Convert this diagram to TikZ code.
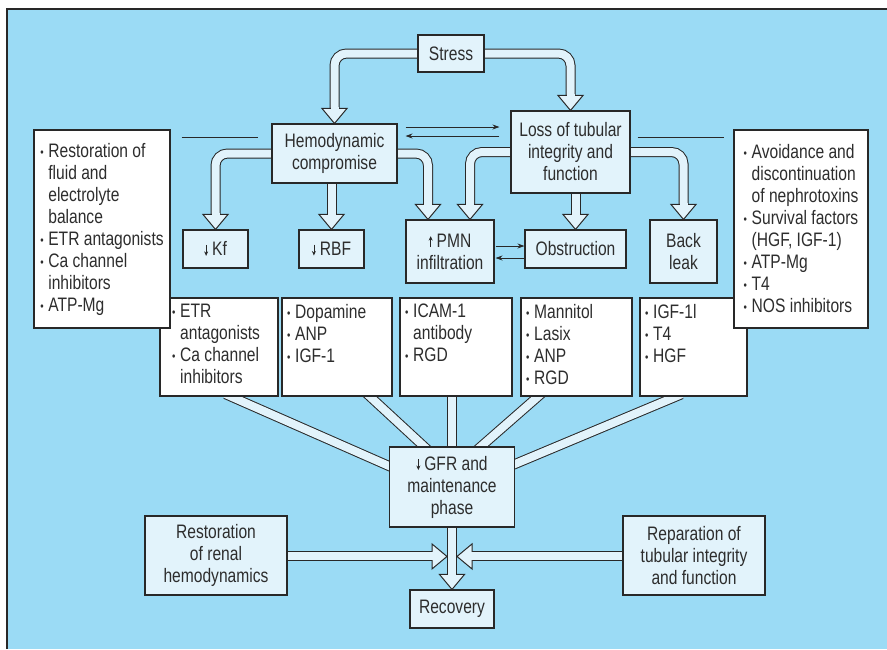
\documentclass[tikz,border=0pt]{standalone}
\usepackage{fontspec}
\setmainfont{Liberation Sans}[FakeStretch=0.8]
\usetikzlibrary{arrows.meta,calc}
\definecolor{bgblue}{RGB}{155,219,245}
\definecolor{lite}{RGB}{226,243,251}
\definecolor{ink}{RGB}{40,40,40}
\definecolor{txt}{RGB}{45,45,45}
\pgfdeclarelayer{bglayer}
\pgfdeclarelayer{pipelayer}
\pgfsetlayers{bglayer,pipelayer,main}
\newcommand\bul{\makebox[8pt][l]{\fontsize{12}{12}\selectfont\raisebox{1pt}{•}}}
\newcommand\contind{\hspace*{8pt}}
\newcommand\dnar{\tikz[baseline=0pt,x=1pt,y=1pt]\draw[ink,line width=0.8pt,-{Stealth[length=4.5pt,width=4pt]}](0,11)--(0,0);\hspace{4pt}}
\newcommand\upar{\tikz[baseline=0pt,x=1pt,y=1pt]\draw[ink,line width=0.8pt,-{Stealth[length=4.5pt,width=4pt]}](0,0)--(0,11);\hspace{4pt}}
\newcommand\headD[1]{\begin{scope}[shift={#1}]
 \filldraw[fill=lite,draw=ink,line width=1pt] (0,0) -- (-12.5,-15) -- (12.5,-15) -- cycle;
 \fill[lite] (-4,-16.2) rectangle (4,-13.8);\end{scope}}
\newcommand\headR[1]{\begin{scope}[shift={#1}]
 \filldraw[fill=lite,draw=ink,line width=1pt] (0,0) -- (-15,-12.5) -- (-15,12.5) -- cycle;
 \fill[lite] (-16.2,-4) rectangle (-13.8,4);\end{scope}}
\newcommand\headL[1]{\begin{scope}[shift={#1}]
 \filldraw[fill=lite,draw=ink,line width=1pt] (0,0) -- (15,-12.5) -- (15,12.5) -- cycle;
 \fill[lite] (13.8,-4) rectangle (16.2,4);\end{scope}}
\tikzset{
 box/.style={draw=ink, fill=lite, line width=1.1pt, inner sep=0pt, align=center, text=txt, font=\fontsize{19.5}{22}\selectfont},
 wbox/.style={box, fill=white},
 pipe/.style={draw=ink, line width=1pt, double=lite, double distance=8pt, rounded corners=12pt},
 thinline/.style={draw=ink, line width=0.9pt},
 thinarrow/.style={thinline, -{Stealth[length=7pt,width=5pt]}},
 txtnode/.style={inner sep=0pt, align=left, anchor=north west, text=txt, font=\fontsize{19.5}{22}\selectfont},
}
\begin{document}
\begin{tikzpicture}[x=1pt,y=-1pt]
\useasboundingbox (0,0) rectangle (887,649);
\begin{pgfonlayer}{bglayer}
\fill[bgblue] (7,9) rectangle (887,649);
\draw[ink,line width=1.5pt] (7,649) -- (7,9) -- (887,9);
\end{pgfonlayer}

% top part
\node[box,minimum width=66pt,minimum height=37pt] (stress) at (451,53.5) {Stress};
\node[box,minimum width=125pt,minimum height=59pt] (hemo) at (334.5,153.5) {Hemodynamic\\compromise};
\node[box,minimum width=119pt,minimum height=82pt] (loss) at (570.5,152) {Loss of tubular\\integrity and\\function};
\node[box,minimum width=65pt,minimum height=38pt] (kf) at (215.5,249) {\dnar Kf};
\node[box,minimum width=65pt,minimum height=38pt] (rbf) at (331.5,249) {\dnar RBF};
\node[box,minimum width=88pt,minimum height=63pt] (pmn) at (450,251.5) {\upar PMN\\infiltration};
\node[box,minimum width=101pt,minimum height=38pt] (obs) at (575.5,249) {Obstruction};
\node[box,minimum width=67pt,minimum height=63pt] (back) at (683.5,251.5) {Back\\leak};
\coordinate (pmnL) at ($(pmn.north)+(-22,0)$);
\coordinate (pmnR) at ($(pmn.north)+(20,0)$);

% row of treatment boxes
\node[wbox,minimum width=118pt,minimum height=98pt] (b1) at (219,347) {};
\node[wbox,minimum width=110pt,minimum height=98pt] (b2) at (337,347) {};
\node[wbox,minimum width=112pt,minimum height=98pt] (b3) at (456,347) {};
\node[wbox,minimum width=111pt,minimum height=98pt] (b4) at (576.5,347) {};
\node[wbox,minimum width=107pt,minimum height=98pt] (b5) at (693.5,347) {};
\node[txtnode] (t1) at (172,304) {\bul ETR\\\contind antagonists\\\bul Ca channel\\\contind inhibitors};
\node[txtnode] (t2) at (287,304) {\bul Dopamine\\\bul ANP\\\bul IGF-1};
\node[txtnode] (t3) at (405,304) {\bul ICAM-1\\\contind antibody\\\bul RGD};
\node[txtnode] (t4) at (526,304) {\bul Mannitol\\\bul Lasix\\\bul ANP\\\bul RGD};
\node[txtnode] (t5) at (645,304) {\bul IGF-1l\\\bul T4\\\bul HGF};

% side boxes
\node[wbox,minimum width=136pt,minimum height=198pt,align=left] (left) at (102,229)
 {\bul Restoration of\\\contind fluid and\\\contind electrolyte\\\contind balance\\\bul ETR antagonists\\\bul Ca channel\\\contind inhibitors\\\bul ATP-Mg};
\node[wbox,minimum width=134pt,minimum height=198pt,align=left] (right) at (801,229)
 {\bul Avoidance and\\\contind discontinuation\\\contind of nephrotoxins\\\bul Survival factors\\\contind (HGF, IGF-1)\\\bul ATP-Mg\\\bul T4\\\bul NOS inhibitors};

% bottom part
\node[box,minimum width=125pt,minimum height=80pt] (gfr) at (452,487) {\dnar GFR and\\maintenance\\phase};
\node[box,minimum width=142pt,minimum height=79pt] (rest) at (216,555.5) {Restoration\\of renal\\hemodynamics};
\node[box,minimum width=142pt,minimum height=79pt] (repar) at (694,555.5) {Reparation of\\tubular integrity\\and function};
\node[box,minimum width=84pt,minimum height=38pt] (rec) at (452,609) {Recovery};
\coordinate (tipL) at ($(rec.north)+(-5,-33)$);
\coordinate (tipR) at ($(rec.north)+(5,-33)$);

% converging pipe end points
\coordinate (c1a) at ($(b1.south)+(12,0)$);
\coordinate (c1b) at ($(gfr.west)+(0,-21)$);
\coordinate (c2a) at ($(b2.south)+(33,0)$);
\coordinate (c2b) at ($(gfr.north)+(-28,0)$);
\coordinate (c3a) at (b3.south -| gfr.north);
\coordinate (c3b) at (gfr.north);
\coordinate (c4a) at ($(b4.south)+(-38.5,0)$);
\coordinate (c4b) at ($(gfr.north)+(29,0)$);
\coordinate (c5a) at ($(b5.south)+(-17.5,0)$);
\coordinate (c5b) at ($(gfr.east)+(0,-23)$);

\begin{pgfonlayer}{pipelayer}
\draw[pipe] (stress.center) -| ($(hemo.north)+(0,-13)$);
\draw[pipe] (stress.center) -| ($(loss.north)+(0,-13)$);
\draw[pipe] (hemo.center) -| ($(kf.north)+(0,-13)$);
\draw[pipe] (hemo.center -| rbf.north) -- ($(rbf.north)+(0,-13)$);
\draw[pipe] (hemo.center) -| ($(pmnL)+(0,-13)$);
\draw[pipe] (loss.center) -| ($(pmnR)+(0,-13)$);
\draw[pipe] (loss.center -| obs.north) -- ($(obs.north)+(0,-13)$);
\draw[pipe] (loss.center) -| ($(back.north)+(0,-13)$);
\draw[pipe] ($(c1a)!-6pt!(c1b)$) -- ($(c1b)!-6pt!(c1a)$);
\draw[pipe] ($(c2a)!-6pt!(c2b)$) -- ($(c2b)!-6pt!(c2a)$);
\draw[pipe] ($(c3a)!-6pt!(c3b)$) -- ($(c3b)!-6pt!(c3a)$);
\draw[pipe] ($(c4a)!-6pt!(c4b)$) -- ($(c4b)!-6pt!(c4a)$);
\draw[pipe] ($(c5a)!-6pt!(c5b)$) -- ($(c5b)!-6pt!(c5a)$);
\draw[pipe] (gfr.center) -- ($(rec.north)+(0,-13)$);
\draw[pipe] (rest.center |- tipL) -- ($(tipL)+(-13,0)$);
\draw[pipe] (repar.center |- tipR) -- ($(tipR)+(13,0)$);
\headD{(hemo.north)}
\headD{(loss.north)}
\headD{(kf.north)}
\headD{(rbf.north)}
\headD{(pmnL)}
\headD{(pmnR)}
\headD{(obs.north)}
\headD{(back.north)}
\headD{(rec.north)}
\headR{(tipL)}
\headL{(tipR)}
\end{pgfonlayer}

% thin arrows and lines
\draw[thinarrow] ($(hemo.east)+(8,-26.5)$) -- ($(loss.west)+(-11,-25)$);
\draw[thinarrow] ($(loss.west)+(-11,-16)$) -- ($(hemo.east)+(8,-17.5)$);
\draw[thinarrow] ($(pmn.east)+(1,-5.5)$) -- ($(obs.west)+(0,-3)$);
\draw[thinarrow] ($(obs.west)+(0,9)$) -- ($(pmn.east)+(1,6.5)$);
\draw[thinline] ($(left.east)+(11,-92)$) -- ($(hemo.west)+(-13,-16.5)$);
\draw[thinline] ($(loss.east)+(7,-15)$) -- ($(right.west)+(-9,-92)$);
\end{tikzpicture}
\end{document}
